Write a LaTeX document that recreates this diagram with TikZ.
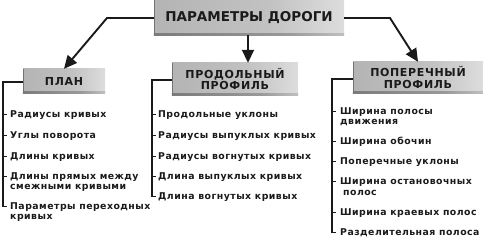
\documentclass[tikz,border=0pt]{standalone}
\usepackage{fontspec}
\setmainfont{DejaVu Sans}
\newfontfamily\itemfont[LetterSpace=5]{DejaVu Sans}
\newfontfamily\boxfont[LetterSpace=6]{DejaVu Sans}
\usetikzlibrary{arrows.meta}
\definecolor{ink}{HTML}{1A1A1A}
\pgfdeclarehorizontalshading{boxshade}{100bp}{color(0bp)=(black!34); color(55bp)=(black!24); color(85bp)=(black!8); color(100bp)=(white)}
\pgfdeclarehorizontalshading{edgeshade}{100bp}{color(0bp)=(black!60); color(60bp)=(black!40); color(100bp)=(white)}
\begin{document}
\begin{tikzpicture}[x=1pt,y=-1pt,
  hbox/.style={rectangle, inner sep=0pt, shading=boxshade, text=ink, align=center},
  itm/.style={anchor=west, inner sep=0pt, text=ink, font=\itemfont\bfseries\fontsize{9.35}{10}\selectfont},
  arr/.style={line width=1.9pt, draw=ink, -{Triangle[length=13pt,width=12pt]}},
  brk/.style={line width=1.3pt, draw=ink},
  tick/.style={line width=1pt, draw=ink},
  edgeL/.style={draw=black!55, line width=1pt},
  edgeB/.style={shading=edgeshade}]
\useasboundingbox (0,0) rectangle (483,240);
% boxes
\node[hbox, minimum width=190pt, minimum height=35pt, font=\bfseries\fontsize{13.5}{15}\selectfont] (top) at (249,17.5) {ПАРАМЕТРЫ ДОРОГИ};
\node[hbox, minimum width=82pt, minimum height=24pt, font=\boxfont\bfseries\fontsize{11}{11}\selectfont] (plan) at (64,81) {ПЛАН};
\node[hbox, minimum width=126pt, minimum height=32pt, font=\boxfont\bfseries\fontsize{11}{11.5}\selectfont] (prod) at (235,79) {ПРОДОЛЬНЫЙ\\ПРОФИЛЬ};
\node[hbox, minimum width=130pt, minimum height=31pt, font=\boxfont\bfseries\fontsize{11}{11.5}\selectfont] (pop) at (418,77.5) {ПОПЕРЕЧНЫЙ\\ПРОФИЛЬ};
\foreach \b in {top,plan,prod,pop} {
  \shade[edgeB] (\b.south west) rectangle ([yshift=1.6pt]\b.south east);
  \draw[edgeL] ([xshift=0.5pt]\b.north west) -- ([xshift=0.5pt]\b.south west);
}
% arrows
\draw[arr] (top.west |- 0,18) -- (107,18) -- (plan.north);
\draw[arr] (top.south -| 248,0) -- (prod.north -| 248,0);
\draw[arr] (top.east |- 0,18) -- (390,18) -- (pop.north);
% plan items
\node[itm] (p1) at (10,115) {Радиусы кривых};
\node[itm] (p2) at (10,136) {Углы поворота};
\node[itm] (p3) at (10,157) {Длины кривых};
\node[itm] (p4) at (10,177) {Длины прямых между};
\node[itm] (p4b) at (10,187.5) {смежными кривыми};
\node[itm] (p5) at (10,207) {Параметры переходных};
\node[itm] (p5b) at (10,217.5) {кривых};
\coordinate (pb) at (3,82);
\draw[brk] (plan.west |- pb) -- (pb) -- (pb |- p5.west);
\foreach \n in {p1,p2,p3,p4,p5} \draw[tick] (pb |- \n.west) -- ++(4,0);
% prod items
\node[itm] (m1) at (158,115) {Продольные уклоны};
\node[itm] (m2) at (158,136) {Радиусы выпуклых кривых};
\node[itm] (m3) at (158,157) {Радиусы вогнутых кривых};
\node[itm] (m4) at (158,177) {Длина выпуклых кривых};
\node[itm] (m5) at (158,197) {Длина вогнутых кривых};
\coordinate (mb) at (152,80);
\draw[brk] (prod.west |- mb) -- (mb) -- (mb |- m5.west);
\foreach \n in {m1,m2,m3,m4,m5} \draw[tick] (mb |- \n.west) -- ++(4,0);
% pop items
\node[itm] (r1) at (340,112) {Ширина полосы};
\node[itm] (r1b) at (340,122.5) {движения};
\node[itm] (r2) at (340,142) {Ширина обочин};
\node[itm] (r3) at (340,162) {Поперечные уклоны};
\node[itm] (r4) at (340,182) {Ширина остановочных};
\node[itm] (r4b) at (343,192.5) {полос};
\node[itm] (r5) at (340,213) {Ширина краевых полос};
\node[itm] (r6) at (340,233) {Разделительная полоса};
\coordinate (rb) at (332,79);
\draw[brk] (pop.west |- rb) -- (rb) -- (rb |- r6.west);
\foreach \n in {r1,r2,r3,r4,r5,r6} \draw[tick] (rb |- \n.west) -- ++(4,0);
\end{tikzpicture}
\end{document}
